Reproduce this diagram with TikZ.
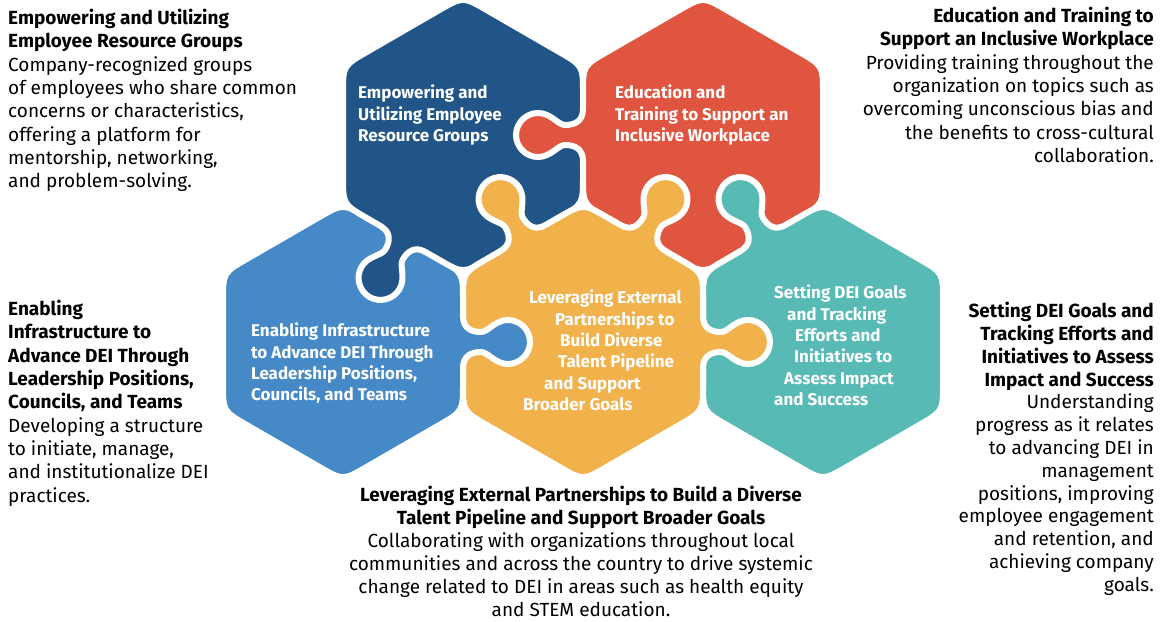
\documentclass[tikz,border=0pt]{standalone}
\usepackage{fontspec}
\setmainfont{Fira Sans}
\usetikzlibrary{calc}

\definecolor{dblue}{HTML}{215587}
\definecolor{lblue}{HTML}{4689C7}
\definecolor{ored}{HTML}{E05540}
\definecolor{oyellow}{HTML}{F1B14B}
\definecolor{oteal}{HTML}{57BAB4}

\begin{document}
\begin{tikzpicture}[x=1pt,y=-1pt,
    piece/.style={fill=#1,draw=white,line width=6pt,line join=round},
    corner/.style n args={3}{insert path={-- ($(#2)!28pt!(#1)$) .. controls (#2) .. ($(#2)!28pt!(#3)$)}},
    knob/.style={insert path={-- (#1-1) .. controls (#1-2) and (#1-3) .. (#1-4)
        .. controls (#1-5) and (#1-6) .. (#1-7) .. controls (#1-8) and (#1-9) .. (#1-10)
        .. controls (#1-11) and (#1-12) .. (#1-13) .. controls (#1-14) and (#1-15) .. (#1-16)
        .. controls (#1-17) and (#1-18) .. (#1-19)}},
    sidetext/.style={inner sep=0pt,font=\fontsize{19}{23.3}\selectfont},
    intext/.style={inner sep=0pt,text=white,align=left,font=\bfseries\fontsize{17}{21.3}\selectfont}]
\useasboundingbox (0,0) rectangle (1161,621);

% hexagon corners
\foreach \pn/\cx/\cy in {db/463/135, rd/703/135, lb/343/342, yl/583/342, tl/823/342} {
  \coordinate (\pn-t)  at ({\cx},{\cy-138.6});
  \coordinate (\pn-ur) at ({\cx+120},{\cy-69.3});
  \coordinate (\pn-lr) at ({\cx+120},{\cy+69.3});
  \coordinate (\pn-b)  at ({\cx},{\cy+138.6});
  \coordinate (\pn-ll) at ({\cx-120},{\cy+69.3});
  \coordinate (\pn-ul) at ({\cx-120},{\cy-69.3});
}

% puzzle knobs (edge midpoint, turn)
\foreach \kn/\kx/\ky/\ka in {kdb/403/239/150, krd/583/135/90, kyl1/523/238/30,
                             kyl2/643/238/-30, kyl3/703/342/-90, ktl/763/238/30, klb/463/342/-90} {
  \begin{scope}[shift={(\kx,\ky)},rotate=\ka]
    \foreach \i/\xx/\yy in {1/-26/0, 2/-14/0, 3/-10/-8, 4/-10/-18, 5/-10/-25, 6/-22/-32,
                            7/-22/-45, 8/-22/-57, 9/-12/-67, 10/0/-67, 11/12/-67, 12/22/-57,
                            13/22/-45, 14/22/-32, 15/10/-25, 16/10/-18, 17/10/-8, 18/14/0, 19/26/0}
      \coordinate (\kn-\i) at (\xx,\yy);
  \end{scope}
}

\tikzset{lbshape/.style={insert path={($(lb-t)!28pt!(lb-ur)$) [corner={lb-t}{lb-ur}{lb-lr}] [knob=klb]
    [corner={lb-ur}{lb-lr}{lb-b}] [corner={lb-lr}{lb-b}{lb-ll}] [corner={lb-b}{lb-ll}{lb-ul}]
    [corner={lb-ll}{lb-ul}{lb-t}] [corner={lb-ul}{lb-t}{lb-ur}] -- cycle}}}

\path[piece=lblue] [lbshape];
\path[piece=dblue] ($(db-t)!28pt!(db-ur)$) [corner={db-t}{db-ur}{db-lr}] [corner={db-ur}{db-lr}{db-b}]
    [corner={db-lr}{db-b}{db-ll}] [knob=kdb] [corner={db-b}{db-ll}{db-ul}]
    [corner={db-ll}{db-ul}{db-t}] [corner={db-ul}{db-t}{db-ur}] -- cycle;
\path[piece=ored] ($(rd-t)!28pt!(rd-ur)$) [corner={rd-t}{rd-ur}{rd-lr}] [corner={rd-ur}{rd-lr}{rd-b}]
    [corner={rd-lr}{rd-b}{rd-ll}] [corner={rd-b}{rd-ll}{rd-ul}] [knob=krd]
    [corner={rd-ll}{rd-ul}{rd-t}] [corner={rd-ul}{rd-t}{rd-ur}] -- cycle;
\path[piece=oteal] ($(tl-t)!28pt!(tl-ur)$) [corner={tl-t}{tl-ur}{tl-lr}] [corner={tl-ur}{tl-lr}{tl-b}]
    [corner={tl-lr}{tl-b}{tl-ll}] [corner={tl-b}{tl-ll}{tl-ul}]
    [corner={tl-ll}{tl-ul}{tl-t}] [knob=ktl] [corner={tl-ul}{tl-t}{tl-ur}] -- cycle;
\path[piece=oyellow] ($(yl-t)!28pt!(yl-ur)$) [knob=kyl2] [corner={yl-t}{yl-ur}{yl-lr}] [knob=kyl3]
    [corner={yl-ur}{yl-lr}{yl-b}] [corner={yl-lr}{yl-b}{yl-ll}] [corner={yl-b}{yl-ll}{yl-ul}]
    [corner={yl-ll}{yl-ul}{yl-t}] [knob=kyl1] [corner={yl-ul}{yl-t}{yl-ur}] -- cycle;
% light blue knob goes over the yellow piece
\begin{scope}
  \clip (448,288) rectangle (560,396);
  \path[piece=lblue] [lbshape];
\end{scope}

% texts inside the pieces
\node[intext,anchor=north west] (p1) at (358,85) {Empowering and\\Utilizing Employee\\Resource Groups};
\node[intext,anchor=north west] (p2) at (615,85) {Education and\\Training to Support an\\Inclusive Workplace};
\node[intext,anchor=north west] (p3) at (251,323) {Enabling Infrastructure\\to Advance DEI Through\\Leadership Positions,\\Councils, and Teams};
\node[intext,anchor=north west] (p4) at (523,290) {\hspace*{6pt}Leveraging External\\\hspace*{32pt}Partnerships to\\\hspace*{37pt}Build Diverse\\\hspace*{35pt}Talent Pipeline\\\hspace*{21pt}and Support\\Broader Goals};
\node[intext,anchor=north west] (p5) at (774,285) {Setting DEI Goals\\\hspace*{13pt}and Tracking\\\hspace*{21pt}Efforts and\\\hspace*{20pt}Initiatives to\\\hspace*{10pt}Assess Impact\\and Success};

% texts around
\node[sidetext,anchor=north west,align=left] (n1) at (8,9) {\textbf{Empowering and Utilizing}\\\textbf{Employee Resource Groups}\\Company-recognized groups\\of employees who share common\\concerns or characteristics,\\offering a platform for\\mentorship, networking,\\and problem-solving.};
\node[sidetext,anchor=north east,align=right] (n2) at (1154,7) {\textbf{Education and Training to}\\\textbf{Support an Inclusive Workplace}\\Providing training throughout the\\organization on topics such as\\overcoming unconscious bias and\\the benefits to cross-cultural\\collaboration.};
\node[sidetext,anchor=north west,align=left] (n3) at (8,300) {\textbf{Enabling}\\\textbf{Infrastructure to}\\\textbf{Advance DEI Through}\\\textbf{Leadership Positions,}\\\textbf{Councils, and Teams}\\Developing a structure\\to initiate, manage,\\and institutionalize DEI\\practices.};
\node[sidetext,anchor=north east,align=right,font=\fontsize{19}{22.8}\selectfont] (n4) at (1154,302) {\textbf{Setting DEI Goals and}\\\textbf{Tracking Efforts and}\\\textbf{Initiatives to Assess}\\\textbf{Impact and Success}\\Understanding\\progress as it relates\\to advancing DEI in\\management\\positions, improving\\employee engagement\\and retention, and\\achieving company\\goals.};
\node[sidetext,anchor=north,align=center,font=\fontsize{19}{23}\selectfont] (n5) at (581,486) {\textbf{Leveraging External Partnerships to Build a Diverse}\\\textbf{Talent Pipeline and Support Broader Goals}\\Collaborating with organizations throughout local\\communities and across the country to drive systemic\\change related to DEI in areas such as health equity\\and STEM education.};
\end{tikzpicture}
\end{document}
